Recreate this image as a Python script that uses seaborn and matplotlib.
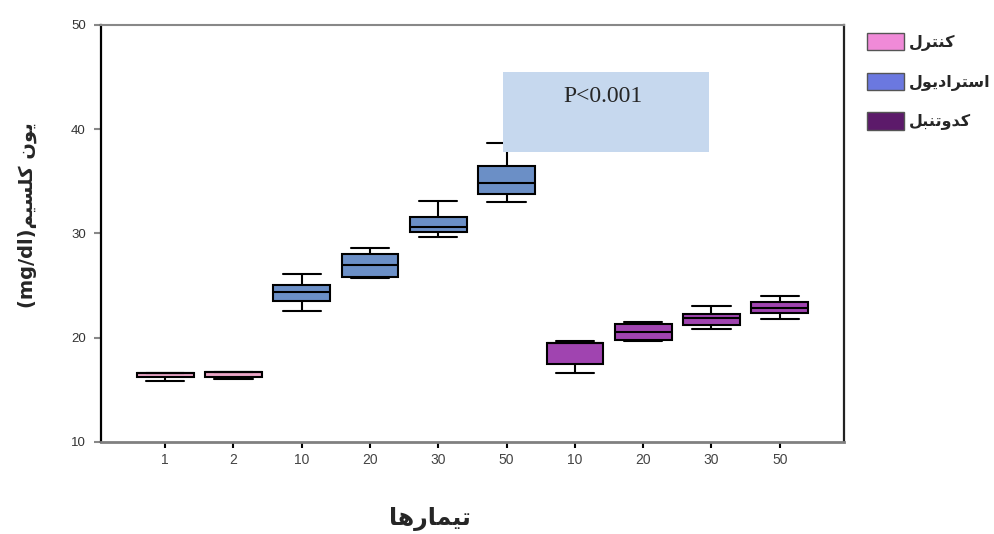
import matplotlib
matplotlib.use("Agg")
import matplotlib.pyplot as plt
from matplotlib.patches import Patch, Rectangle
import numpy as np
import pandas as pd
import seaborn as sns

# box statistics (mg/dl)
groups = ["کنترل", "کنترل",
          "استرادیول", "استرادیول", "استرادیول", "استرادیول",
          "کدوتنبل", "کدوتنبل", "کدوتنبل", "کدوتنبل"]
tick_labels = ["1", "2", "10", "20", "30", "50", "10", "20", "30", "50"]
low = [15.88, 16.01, 22.59, 25.70, 29.64, 33.05, 16.65, 19.66, 20.81, 21.77]
q1 = [16.21, 16.24, 23.55, 25.80, 30.17, 33.79, 17.48, 19.78, 21.22, 22.40]
median = [16.65, 16.69, 24.42, 26.98, 30.59, 34.87, 19.47, 20.52, 21.90, 22.85]
q3 = [16.65, 16.69, 25.06, 28.03, 31.55, 36.47, 19.47, 21.29, 22.31, 23.46]
high = [16.65, 16.69, 26.12, 28.58, 33.15, 38.71, 19.72, 21.54, 23.05, 24.03]

legend_labels = ["کنترل", "استرادیول", "کدوتنبل"]
box_colors = ["#eba5c6", "#6b8fc6", "#a044b0"]
legend_colors = ["#f08ad8", "#6b78e0", "#5c1a6a"]

# presentation forms: isolated, final, initial, medial
FORMS = {
    'ا': ('\uFE8D', '\uFE8E', None, None),
    'ب': ('\uFE8F', '\uFE90', '\uFE91', '\uFE92'),
    'ت': ('\uFE95', '\uFE96', '\uFE97', '\uFE98'),
    'د': ('\uFEA9', '\uFEAA', None, None),
    'ر': ('\uFEAD', '\uFEAE', None, None),
    'س': ('\uFEB1', '\uFEB2', '\uFEB3', '\uFEB4'),
    'ل': ('\uFEDD', '\uFEDE', '\uFEDF', '\uFEE0'),
    'م': ('\uFEE1', '\uFEE2', '\uFEE3', '\uFEE4'),
    'ن': ('\uFEE5', '\uFEE6', '\uFEE7', '\uFEE8'),
    'ه': ('\uFEE9', '\uFEEA', '\uFEEB', '\uFEEC'),
    'و': ('\uFEED', '\uFEEE', None, None),
    'ی': ('\uFBFC', '\uFBFD', '\uFBFE', '\uFBFF'),
    'ک': ('\uFB8E', '\uFB8F', '\uFB90', '\uFB91'),
}


def fa(text):
    """shape persian letters and put them in visual order"""
    out = []
    for i, ch in enumerate(text):
        if ch not in FORMS:
            out.append(ch)
            continue
        f = FORMS[ch]
        prev = text[i - 1] if i > 0 else None
        nxt = text[i + 1] if i + 1 < len(text) else None
        jp = prev in FORMS and FORMS[prev][2] is not None
        jn = nxt in FORMS and f[2] is not None
        if jp and jn:
            out.append(f[3])
        elif jp:
            out.append(f[1])
        elif jn:
            out.append(f[2])
        else:
            out.append(f[0])
    return "".join(reversed(out))


rows = []
for i in range(len(groups)):
    for v in (low[i], q1[i], median[i], q3[i], high[i]):
        rows.append({"pos": str(i), "value": v, "group": groups[i]})
df = pd.DataFrame(rows)

sns.set_style("white")
plt.rcParams["font.family"] = ["DejaVu Sans"]

fig = plt.figure(figsize=(9.95, 5.34), dpi=100)
ax = fig.add_axes([0.1015, 0.1723, 0.7467, 0.7809])

sns.boxplot(data=df, x="pos", y="value", hue="group",
            order=[str(i) for i in range(len(groups))],
            hue_order=legend_labels, palette=box_colors, saturation=1,
            dodge=False, width=0.83, whis=(0, 100),
            linecolor="black", linewidth=1.5, capwidths=0.56,
            legend=False, ax=ax)

ax.set_xlim(-0.94, 9.94)
ax.set_ylim(10, 50)
ax.set_yticks([10, 20, 30, 40, 50])
ax.set_xticks(range(len(tick_labels)))
ax.set_xticklabels(tick_labels, family="Liberation Sans", fontsize=10,
                   color="#444444")
for lab in ax.get_yticklabels():
    lab.set_family("Liberation Sans")
ax.tick_params(axis="y", labelsize=9.5, labelcolor="#333333", length=5,
               width=1.5, color="#888888", left=True, pad=6)
ax.tick_params(axis="x", length=4, width=1.5, color="black", bottom=True,
               pad=4)

ax.spines["left"].set_color("black")
ax.spines["left"].set_linewidth(1.6)
ax.spines["right"].set_color("#222222")
ax.spines["right"].set_linewidth(1.6)
ax.spines["top"].set_color("#888888")
ax.spines["top"].set_linewidth(1.5)
ax.spines["bottom"].set_color("#808080")
ax.spines["bottom"].set_linewidth(2)

ax.set_xlabel("")
ax.set_ylabel("")

# p-value box
ax.add_patch(Rectangle((4.95, 37.82), 3.01, 7.67, facecolor="#c6d8ee",
                       edgecolor="none", zorder=5))
ax.text(6.41, 43.1, "P<0.001", family="Liberation Serif", fontsize=17,
        ha="center", va="center", zorder=6)

fig.text(0.027, 0.597, "(mg/dl)" + fa("یون کلسیم"), rotation=90,
         ha="center", va="center", fontsize=14, fontweight="bold")
fig.text(0.432, 0.006, fa("تیمارها"), ha="center", va="bottom",
         fontsize=17, fontweight="bold")

handles = [Patch(facecolor=c, edgecolor="#555555", linewidth=1)
           for c in legend_colors]
fig.legend(handles, [fa(t) for t in legend_labels], loc="upper left",
           bbox_to_anchor=(0.857, 0.965), frameon=False,
           prop={"weight": "bold", "size": 11.5}, handlelength=2.3,
           handleheight=1.3, labelspacing=1.35, handletextpad=0.3)

fig.savefig("out.png", dpi=100)
